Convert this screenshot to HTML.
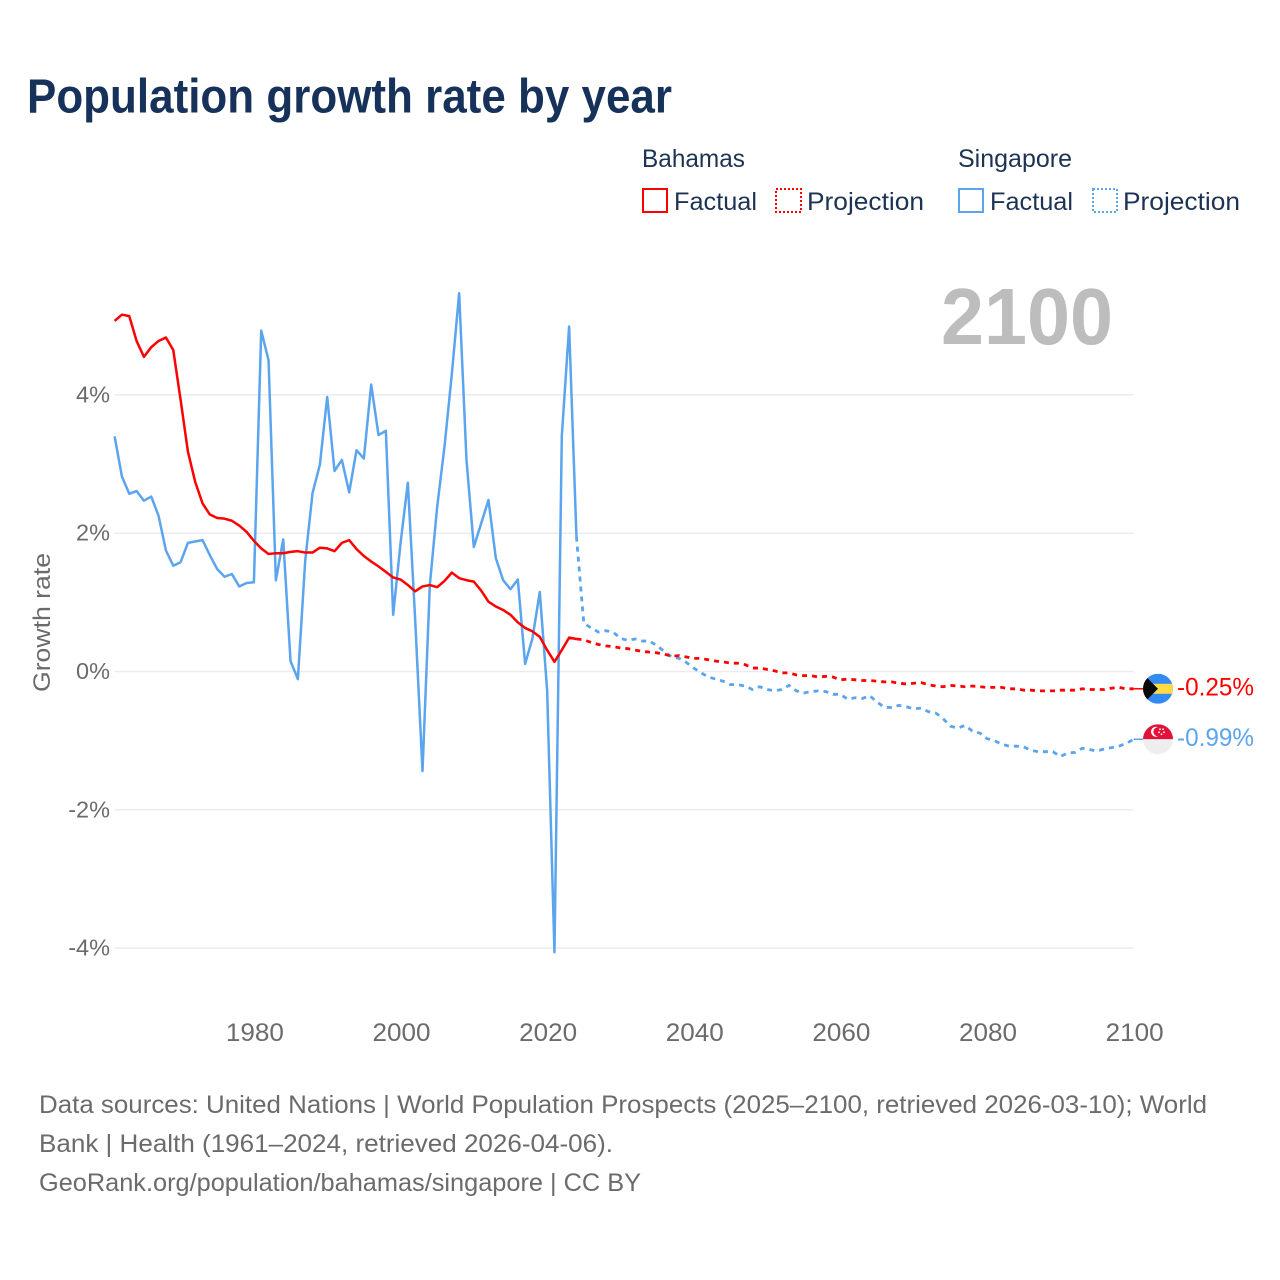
<!DOCTYPE html>
<html lang="en">
<head>
<meta charset="utf-8">
<title>Population growth rate by year</title>
<style>
html,body{margin:0;padding:0;background:#fff;width:1280px;height:1280px;overflow:hidden}
svg{display:block;font-family:"Liberation Sans",sans-serif}
</style>
</head>
<body>
<svg id="chart" width="1280" height="1280" viewBox="0 0 1280 1280" xmlns="http://www.w3.org/2000/svg">
  <rect width="1280" height="1280" fill="#fff"/>
  <text x="27" y="112.5" font-size="48" font-weight="700" fill="#17325a" textLength="645" lengthAdjust="spacingAndGlyphs">Population growth rate by year</text>

  <g font-size="25" fill="#1c3353">
    <text x="642" y="167" textLength="103" lengthAdjust="spacingAndGlyphs">Bahamas</text>
    <text x="958" y="167" textLength="114" lengthAdjust="spacingAndGlyphs">Singapore</text>
    <g>
      <rect x="643" y="189" width="24" height="23" fill="none" stroke="#ff0000" stroke-width="2"/>
      <text x="674" y="210" textLength="83" lengthAdjust="spacingAndGlyphs">Factual</text>
    </g>
    <g>
      <rect x="776" y="189" width="25" height="23" fill="none" stroke="#ff0000" stroke-width="2" stroke-dasharray="2 2"/>
      <text x="807" y="210" textLength="117" lengthAdjust="spacingAndGlyphs">Projection</text>
    </g>
    <g>
      <rect x="959" y="189" width="24" height="23" fill="none" stroke="#5ba4ee" stroke-width="2"/>
      <text x="990" y="210" textLength="83" lengthAdjust="spacingAndGlyphs">Factual</text>
    </g>
    <g>
      <rect x="1093" y="189" width="24" height="23" fill="none" stroke="#5ba4ee" stroke-width="2" stroke-dasharray="2 2"/>
      <text x="1123" y="210" textLength="117" lengthAdjust="spacingAndGlyphs">Projection</text>
    </g>
  </g>

  <g id="grid"></g>
  <g id="yticks" font-size="23.5" fill="#6b6b6b" text-anchor="end"></g>
  <g id="xticks" font-size="25" fill="#6b6b6b" text-anchor="middle"></g>
  <text transform="translate(50,622.5) rotate(-90)" font-size="24" fill="#6b6b6b" text-anchor="middle" textLength="139" lengthAdjust="spacingAndGlyphs">Growth rate</text>

  <text x="1113" y="344" font-size="80" font-weight="700" fill="#bdbdbd" text-anchor="end" textLength="172" lengthAdjust="spacingAndGlyphs">2100</text>

  <g id="series"></g>

  <g id="flag-bahamas">
    <clipPath id="clip-bs"><circle cx="0" cy="0" r="15"/></clipPath>
    <g clip-path="url(#clip-bs)">
      <rect x="-15" y="-15" width="30" height="30" fill="#338af3"/>
      <rect x="-15" y="-5" width="30" height="10" fill="#ffda44"/>
      <path d="M-15,-15 L0,0 L-15,15 Z" fill="#0a0a0a"/>
    </g>
  </g>
  <g id="flag-singapore">
    <clipPath id="clip-sg"><circle cx="0" cy="0" r="15"/></clipPath>
    <g clip-path="url(#clip-sg)">
      <rect x="-15" y="-15" width="30" height="15" fill="#e0123a"/>
      <rect x="-15" y="0" width="30" height="15" fill="#eeeeee"/>
      <circle cx="-2" cy="-7.5" r="5" fill="#fff"/>
      <circle cx="0" cy="-7.5" r="4.6" fill="#e0123a"/>
      <circle cx="2" cy="-10" r="0.9" fill="#fff"/>
      <circle cx="5" cy="-10" r="0.9" fill="#fff"/>
      <circle cx="1" cy="-7" r="0.9" fill="#fff"/>
      <circle cx="6" cy="-7" r="0.9" fill="#fff"/>
      <circle cx="3.5" cy="-5" r="0.9" fill="#fff"/>
    </g>
  </g>
  <text id="value-bahamas" x="1177" font-size="25" fill="#ff0000" textLength="77" lengthAdjust="spacingAndGlyphs">-0.25%</text>
  <text id="value-singapore" x="1177" font-size="25" fill="#5ba4ee" textLength="77" lengthAdjust="spacingAndGlyphs">-0.99%</text>

  <g font-size="25" fill="#6b6b6b">
    <text x="39" y="1113" textLength="1168" lengthAdjust="spacingAndGlyphs">Data sources: United Nations | World Population Prospects (2025–2100, retrieved 2026-03-10); World</text>
    <text x="39" y="1152" textLength="574" lengthAdjust="spacingAndGlyphs">Bank | Health (1961–2024, retrieved 2026-04-06).</text>
    <text x="39" y="1191" textLength="602" lengthAdjust="spacingAndGlyphs">GeoRank.org/population/bahamas/singapore | CC BY</text>
  </g>
</svg>
<script>
const factualStartYear = 1961;
const projectionStartYear = 2024;
const xTickYears = [1980, 2000, 2020, 2040, 2060, 2080, 2100];
const yTickValues = [4, 2, 0, -2, -4];
const bahamasFactual = [5.07,5.16,5.14,4.78,4.55,4.69,4.78,4.83,4.65,3.93,3.18,2.74,2.43,2.27,2.22,2.21,2.18,2.11,2.02,1.89,1.78,1.70,1.71,1.71,1.73,1.74,1.72,1.72,1.79,1.78,1.74,1.86,1.90,1.77,1.67,1.59,1.52,1.44,1.36,1.33,1.25,1.16,1.23,1.25,1.22,1.31,1.43,1.35,1.32,1.30,1.17,1.01,0.94,0.89,0.82,0.71,0.63,0.58,0.50,0.31,0.14,0.31,0.49,0.47];
const singaporeFactual = [3.40,2.82,2.57,2.61,2.47,2.53,2.25,1.75,1.53,1.58,1.86,1.88,1.90,1.68,1.48,1.37,1.41,1.23,1.28,1.29,4.93,4.50,1.32,1.91,0.15,-0.11,1.60,2.58,2.99,3.97,2.90,3.06,2.59,3.20,3.08,4.15,3.42,3.48,0.82,1.85,2.73,0.75,-1.44,1.25,2.38,3.25,4.30,5.47,3.06,1.80,2.14,2.48,1.64,1.32,1.19,1.33,0.11,0.48,1.15,-0.27,-4.06,3.40,4.99,1.95];
const bahamasProjection = [0.47,0.46,0.42,0.39,0.37,0.36,0.34,0.33,0.31,0.29,0.28,0.27,0.25,0.22,0.23,0.21,0.19,0.19,0.17,0.15,0.14,0.12,0.12,0.10,0.05,0.05,0.03,0.01,-0.02,-0.02,-0.05,-0.06,-0.06,-0.08,-0.07,-0.08,-0.12,-0.11,-0.12,-0.13,-0.13,-0.14,-0.15,-0.15,-0.17,-0.18,-0.17,-0.16,-0.19,-0.21,-0.22,-0.20,-0.21,-0.22,-0.21,-0.22,-0.23,-0.23,-0.23,-0.25,-0.25,-0.27,-0.27,-0.28,-0.28,-0.28,-0.27,-0.27,-0.27,-0.25,-0.26,-0.26,-0.26,-0.24,-0.23,-0.25,-0.25];
const singaporeProjection = [1.95,0.70,0.63,0.57,0.59,0.57,0.48,0.45,0.47,0.44,0.44,0.37,0.29,0.21,0.19,0.13,0.05,-0.02,-0.08,-0.11,-0.14,-0.19,-0.19,-0.21,-0.26,-0.22,-0.26,-0.28,-0.26,-0.20,-0.28,-0.31,-0.29,-0.28,-0.29,-0.33,-0.33,-0.40,-0.38,-0.39,-0.35,-0.44,-0.52,-0.52,-0.49,-0.51,-0.54,-0.53,-0.58,-0.60,-0.68,-0.79,-0.82,-0.78,-0.86,-0.89,-0.97,-1.00,-1.05,-1.08,-1.08,-1.09,-1.14,-1.16,-1.16,-1.16,-1.23,-1.18,-1.17,-1.11,-1.13,-1.15,-1.12,-1.10,-1.08,-1.04,-0.98];

const NS = 'http://www.w3.org/2000/svg';
const RED = '#ff0000';
const BLUE = '#5ba4ee';
const PLOT_LEFT = 114.6;
const PLOT_RIGHT = 1133.6;
function xScale(year) { return PLOT_LEFT + (year - 1961) * (PLOT_RIGHT - PLOT_LEFT) / (2100 - 1961); }
function yScale(value) { return 671.5 - value * 69.15; }
function lineThrough(values, startYear) {
  return values.map((v, i) => (i ? 'L' : 'M') + xScale(startYear + i).toFixed(2) + ',' + yScale(v).toFixed(2)).join(' ');
}
const gridGroup = document.getElementById('grid');
const yTickGroup = document.getElementById('yticks');
yTickValues.forEach(v => {
  const gl = document.createElementNS(NS, 'line');
  
  
  gl.setAttribute('x1', PLOT_LEFT);
  gl.setAttribute('x2', PLOT_RIGHT);
  gl.setAttribute('y1', yScale(v));
  gl.setAttribute('y2', yScale(v));
  gl.setAttribute('stroke', '#ececec');
  gl.setAttribute('stroke-width', '1.5');
  gridGroup.appendChild(gl);
  const t = document.createElementNS(NS, 'text');
  
  
  t.setAttribute('x', 110);
  t.setAttribute('y', yScale(v) + 7.5);
  t.textContent = v + '%';
  yTickGroup.appendChild(t);
});
const xTickGroup = document.getElementById('xticks');
xTickYears.forEach(y => {
  const t = document.createElementNS(NS, 'text');
  
  
  t.setAttribute('x', xScale(y) + 1);
  t.setAttribute('y', 1041);
  t.setAttribute('textLength', 58);
  t.setAttribute('lengthAdjust', 'spacingAndGlyphs');
  t.textContent = y;
  xTickGroup.appendChild(t);
});
const seriesGroup = document.getElementById('series');
function addLine(name, d, color, dash) {
  const p = document.createElementNS(NS, 'path');
  
  
  p.setAttribute('d', d);
  p.setAttribute('fill', 'none');
  p.setAttribute('stroke', color);
  p.setAttribute('stroke-width', dash ? '2.8' : '2.5');
  p.setAttribute('stroke-linejoin', 'round');
  if (dash) p.setAttribute('stroke-dasharray', dash);
  seriesGroup.appendChild(p);
}
addLine('singapore-factual-line', lineThrough(singaporeFactual, factualStartYear), BLUE);
addLine('singapore-projection-line', lineThrough(singaporeProjection, projectionStartYear), BLUE, '5 5');
addLine('bahamas-factual-line', lineThrough(bahamasFactual, factualStartYear), RED);
addLine('bahamas-projection-line', lineThrough(bahamasProjection, projectionStartYear), RED, '5 5');

function placeEnd(flagId, valueId, values, color, name) {
  const last = values[values.length - 1];
  const y = yScale(last);
  document.getElementById(flagId).setAttribute('transform', 'translate(1158,' + y.toFixed(2) + ')');
  document.getElementById(valueId).setAttribute('y', (y + 6.5).toFixed(2));
  const c = document.createElementNS(NS, 'line');
  
  
  c.setAttribute('x1', PLOT_RIGHT);
  c.setAttribute('x2', 1143);
  c.setAttribute('y1', y);
  c.setAttribute('y2', y);
  c.setAttribute('stroke', color);
  c.setAttribute('stroke-width', '1.5');
  seriesGroup.appendChild(c);
}
placeEnd('flag-bahamas', 'value-bahamas', bahamasProjection, RED, 'bahamas-connector');
placeEnd('flag-singapore', 'value-singapore', singaporeProjection, BLUE, 'singapore-connector');
</script>
</body>
</html>
